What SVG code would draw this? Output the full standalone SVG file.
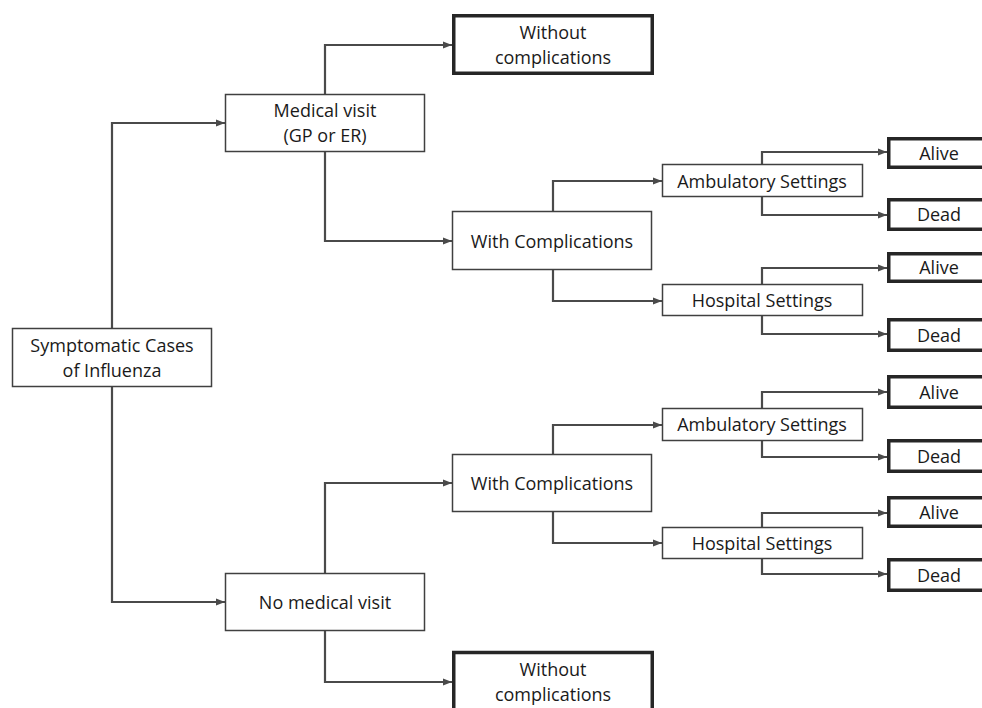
<svg xmlns="http://www.w3.org/2000/svg" width="982" height="708" viewBox="0 0 982 708">
<defs>
<style>
.box{fill:#fff;stroke:#404040;stroke-width:1.5}
.end{fill:#fff;stroke:#262626;stroke-width:3.5}
.lbl{font-family:"Open Sans","Liberation Sans",sans-serif;font-size:18px;fill:#1a1a1a;text-anchor:middle}
.con path{fill:none;stroke:#4a4a4a;stroke-width:2.2;marker-end:url(#arr)}
</style>
<marker id="arr" viewBox="0 0 10 10" refX="10" refY="5" markerWidth="9" markerHeight="9" markerUnits="userSpaceOnUse" orient="auto">
<path d="M0,1 L10,5 L0,9 Z" fill="#4a4a4a"/>
</marker>
</defs>
<rect width="982" height="708" fill="#fff"/>
<g class="con" id="connectors">
<path d="M112,328 V123 H225"/>
<path d="M112,387 V602 H225"/>
<path d="M325,94 V45 H452"/>
<path d="M325,152 V241 H452"/>
<path d="M325,573 V483 H452"/>
<path d="M325,631 V682 H452"/>
<path d="M553,211 V181 H662"/>
<path d="M553,270 V301 H662"/>
<path d="M762,164 V152 H887"/>
<path d="M762,197 V215 H887"/>
<path d="M762,284 V268 H887"/>
<path d="M762,316 V334 H887"/>
<path d="M553,454 V425 H662"/>
<path d="M553,512 V543 H662"/>
<path d="M762,408 V392 H887"/>
<path d="M762,441 V457 H887"/>
<path d="M762,527 V513 H887"/>
<path d="M762,559 V574 H887"/>
</g>
<g id="symptomatic"><rect class="box" x="12.5" y="328.5" width="199" height="58"/><text class="lbl" x="112" y="352">Symptomatic Cases</text><text class="lbl" x="112" y="377">of Influenza</text></g>
<g id="medical-visit"><rect class="box" x="225.5" y="94.5" width="199" height="57"/><text class="lbl" x="325" y="117">Medical visit</text><text class="lbl" x="325" y="142">(GP or ER)</text></g>
<g id="no-medical-visit"><rect class="box" x="225.5" y="573.5" width="199" height="57"/><text class="lbl" x="325" y="608.5">No medical visit</text></g>
<g id="without-top"><rect class="end" x="453.75" y="15.75" width="198.5" height="57.5"/><text class="lbl" x="553" y="38.5">Without</text><text class="lbl" x="553" y="63.5">complications</text></g>
<g id="without-bottom"><rect class="end" x="453.75" y="652.5" width="198.5" height="60"/><text class="lbl" x="553" y="676">Without</text><text class="lbl" x="553" y="700.5">complications</text></g>
<g id="with-comp-1"><rect class="box" x="452.5" y="211.5" width="199" height="58"/><text class="lbl" x="552" y="248">With Complications</text></g>
<g id="with-comp-2"><rect class="box" x="452.5" y="454.5" width="199" height="57"/><text class="lbl" x="552" y="490">With Complications</text></g>
<g id="ambulatory-1"><rect class="box" x="662.5" y="164.5" width="200" height="32"/><text class="lbl" x="762" y="188">Ambulatory Settings</text></g>
<g id="hospital-1"><rect class="box" x="662.5" y="284.5" width="200" height="31"/><text class="lbl" x="762" y="307">Hospital Settings</text></g>
<g id="ambulatory-2"><rect class="box" x="662.5" y="408.5" width="200" height="32"/><text class="lbl" x="762" y="431">Ambulatory Settings</text></g>
<g id="hospital-2"><rect class="box" x="662.5" y="527.5" width="200" height="31"/><text class="lbl" x="762" y="549.5">Hospital Settings</text></g>
<g id="alive-1"><rect class="end" x="888.75" y="138.75" width="110" height="28.5"/><text class="lbl" x="939" y="159.5">Alive</text></g>
<g id="dead-1"><rect class="end" x="888.75" y="199.75" width="110" height="29.5"/><text class="lbl" x="939" y="221">Dead</text></g>
<g id="alive-2"><rect class="end" x="888.75" y="253.75" width="110" height="27.5"/><text class="lbl" x="939" y="274">Alive</text></g>
<g id="dead-2"><rect class="end" x="888.75" y="319.75" width="110" height="30.5"/><text class="lbl" x="939" y="341.5">Dead</text></g>
<g id="alive-3"><rect class="end" x="888.75" y="376.75" width="110" height="30.5"/><text class="lbl" x="939" y="398.5">Alive</text></g>
<g id="dead-3"><rect class="end" x="888.75" y="440.75" width="110" height="30.5"/><text class="lbl" x="939" y="462.5">Dead</text></g>
<g id="alive-4"><rect class="end" x="888.75" y="497.75" width="110" height="28.5"/><text class="lbl" x="939" y="518.5">Alive</text></g>
<g id="dead-4"><rect class="end" x="888.75" y="559.75" width="110" height="30.5"/><text class="lbl" x="939" y="581.5">Dead</text></g>
</svg>
